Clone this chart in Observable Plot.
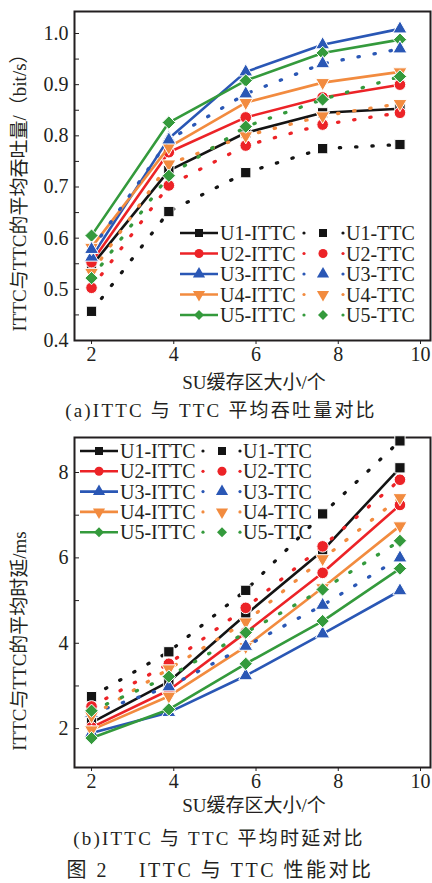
<!DOCTYPE html>
<html>
<head>
<meta charset="utf-8">
<script src="https://cdn.jsdelivr.net/npm/d3@7"></script>
<script src="https://cdn.jsdelivr.net/npm/@observablehq/plot@0.6"></script>
<style>
  body { margin: 0; background: #fff; }
  #root { position: relative; width: 432px; height: 883px; overflow: hidden; background: #fff;
          font-family: "Liberation Serif", "Noto Sans CJK SC", serif; color: #231f20; }
  .abs { position: absolute; white-space: pre; line-height: 1; }
  .ytitle { transform: translate(-50%, -50%) rotate(-90deg); font-size: 19px; }
  .cap { transform: translate(-50%, -50%); }
</style>
</head>
<body>
<div id="root"></div>
<script>
// ---------------- data ----------------
const bufferSizes = [2, 3.88, 5.75, 7.62, 9.5];
const xTicks = [2, 4, 6, 8, 10];
const userNames = ["U1", "U2", "U3", "U4", "U5"];
const methods = ["ITTC", "TTC"];

// (a) average throughput (bit/s), rows U1..U5
const throughputITTC = [
  [0.546, 0.732, 0.806, 0.845, 0.853],
  [0.553, 0.768, 0.836, 0.875, 0.900],
  [0.563, 0.795, 0.925, 0.978, 1.009],
  [0.582, 0.778, 0.865, 0.904, 0.925],
  [0.605, 0.826, 0.908, 0.962, 0.988]
];
const throughputTTC = [
  [0.457, 0.652, 0.728, 0.775, 0.783],
  [0.503, 0.703, 0.781, 0.822, 0.845],
  [0.578, 0.792, 0.882, 0.941, 0.970],
  [0.533, 0.745, 0.800, 0.839, 0.863],
  [0.522, 0.722, 0.818, 0.871, 0.916]
];
const throughputTicks = [0.4, 0.45, 0.5, 0.55, 0.6, 0.65, 0.7, 0.75, 0.8, 0.85, 0.9, 0.95, 1.0];

// (b) average delay (ms), rows U1..U5
const delayITTC = [
  [2.14, 3.10, 4.67, 6.17, 8.11],
  [2.03, 2.90, 4.25, 5.65, 7.24],
  [1.90, 2.38, 3.24, 4.22, 5.23],
  [1.97, 2.76, 3.92, 5.30, 6.75],
  [1.78, 2.45, 3.52, 4.52, 5.75]
];
const delayTTC = [
  [2.75, 3.80, 5.24, 7.03, 8.74],
  [2.52, 3.52, 4.83, 6.27, 7.83],
  [2.36, 2.98, 3.93, 4.89, 6.00],
  [2.30, 3.40, 4.50, 5.98, 7.41],
  [2.42, 3.22, 4.25, 5.26, 6.40]
];
const delayTicks = [2, 3, 4, 5, 6, 7, 8];

// text
const xTitle = "SU缓存区大小/个";
const yTitleA = "ITTC与TTC的平均吞吐量/（bit/s）";
const yTitleB = "ITTC与TTC的平均时延/ms";
const captionA = "(a)ITTC 与 TTC 平均吞吐量对比";
const captionB = "(b)ITTC 与 TTC 平均时延对比";
const figTitle = "图 2    ITTC 与 TTC 性能对比";

// ---------------- styles ----------------
const triangleDown = {
  draw(context, size) {
    const y = -Math.sqrt(size / (Math.sqrt(3) * 3));
    context.moveTo(0, -y * 2);
    context.lineTo(-Math.sqrt(3) * y, y);
    context.lineTo(Math.sqrt(3) * y, y);
    context.closePath();
  }
};
const userColors = ["#141414", "#ec2327", "#2a57b5", "#f28b3f", "#349a3c"];
const userSymbols = ["square", "circle", "triangle", triangleDown, "diamond2"];
const userRadius = [5.8, 5.8, 5.2, 5.2, 6.0];
const d3Symbols = [d3.symbolSquare, d3.symbolCircle, d3.symbolTriangle, triangleDown, d3.symbolDiamond2];
const FONT = "'Liberation Serif','Noto Sans CJK SC',serif";
const INK = "#231f20";

const root = document.getElementById("root");

function makeChart({ittc, ttc, yDomain, yTicks, yFormat, height, marginTop, marginBottom}) {
  const marks = [
    Plot.frame({stroke: INK, strokeWidth: 2}),
    Plot.axisX({ticks: xTicks, tickSize: 4, tickPadding: 2, label: null, fontSize: 20}),
    Plot.axisY({ticks: yTicks, tickSize: -5, tickPadding: 11, tickFormat: yFormat, label: null, fontSize: 20})
  ];
  [ittc, ttc].forEach((values, mi) => {
    const dotted = mi === 1;
    values.forEach((series, i) => {
      const rows = bufferSizes.map((x, j) => ({x, y: series[j], user: userNames[i], method: methods[mi]}));
      marks.push(Plot.line(rows, {
        x: "x", y: "y", stroke: userColors[i],
        strokeWidth: dotted ? 3.3 : 2.6,
        strokeDasharray: dotted ? "1.3 15" : null,
        strokeLinecap: dotted ? "round" : "butt"
      }));
      marks.push(Plot.dot(rows, {
        x: "x", y: "y", symbol: userSymbols[i], r: userRadius[i],
        fill: userColors[i], stroke: "white", strokeWidth: 1
      }));
    });
  });
  return Plot.plot({
    width: 432, height, marginLeft: 74, marginRight: 2, marginTop, marginBottom,
    x: {domain: [1.586, 10.243]},
    y: {domain: yDomain},
    style: {fontFamily: FONT, fontSize: "20px", color: INK, background: "transparent", overflow: "visible"},
    marks
  });
}

function place(node, left, top) {
  node.style.position = "absolute";
  node.style.left = left + "px";
  node.style.top = top + "px";
  root.appendChild(node);
}
function addText(text, cls, left, top, extra = {}) {
  const d = document.createElement("div");
  d.className = "abs " + cls;
  d.textContent = text;
  Object.assign(d.style, extra);
  place(d, left, top);
  return d;
}

function addLegend({top, left, rowH, leftLineX, rightX}) {
  const svg = d3.create("svg").attr("width", 432).attr("height", 130)
    .style("overflow", "visible");
  userNames.forEach((u, i) => {
    const y = i * rowH + 10;
    const g = svg.append("g");
    // ITTC sample (solid)
    g.append("line").attr("x1", leftLineX[0]).attr("x2", leftLineX[1]).attr("y1", y).attr("y2", y)
      .attr("stroke", userColors[i]).attr("stroke-width", 2.6);
    g.append("path").attr("d", d3.symbol(d3Symbols[i], 64)())
      .attr("transform", `translate(${(leftLineX[0] + leftLineX[1]) / 2},${y})`)
      .attr("fill", userColors[i]);
    g.append("text").attr("x", leftLineX[1] + 2).attr("y", y + 7)
      .attr("font-family", FONT).attr("font-size", 20).attr("fill", INK)
      .text(`${u}-${methods[0]}`);
    // TTC sample (dotted)
    [rightX[0], rightX[2]].forEach(cx => {
      g.append("circle").attr("cx", cx).attr("cy", y).attr("r", 1.6).attr("fill", userColors[i]);
    });
    g.append("path").attr("d", d3.symbol(d3Symbols[i], 64)())
      .attr("transform", `translate(${rightX[1]},${y})`)
      .attr("fill", userColors[i]);
    g.append("text").attr("x", rightX[2] + 3).attr("y", y + 7)
      .attr("font-family", FONT).attr("font-size", 20).attr("fill", INK)
      .text(`${u}-${methods[1]}`);
  });
  const node = svg.node();
  place(node, left, top);
}

// ---------- chart (a) ----------
const chartA = makeChart({
  ittc: throughputITTC, ttc: throughputTTC,
  yDomain: [0.4, 1.043], yTicks: throughputTicks,
  yFormat: d => (Math.round(d * 100) % 10 === 0 ? d.toFixed(1) : ""),
  height: 395, marginTop: 11, marginBottom: 55
});
place(chartA, 0, 0);
addLegend({top: 223, left: 0, rowH: 20.5, leftLineX: [180, 218], rightX: [304, 323, 343]});
addText(yTitleA, "ytitle", 19, 188);
addText(xTitle, "cap", 254, 382, {fontSize: "19px"});
addText(captionA, "cap", 221, 410, {fontSize: "19px", letterSpacing: "2.2px"});

// ---------- chart (b) ----------
const chartB = makeChart({
  ittc: delayITTC, ttc: delayTTC,
  yDomain: [1.09, 8.82], yTicks: delayTicks,
  yFormat: d => (d % 2 === 0 ? String(d) : ""),
  height: 395, marginTop: 12, marginBottom: 53
});
place(chartB, 0, 425);
addLegend({top: 441, left: 0, rowH: 20.3, leftLineX: [80, 118], rightX: [203, 222, 240]});
addText(yTitleB, "ytitle", 19, 641);
addText(xTitle, "cap", 254, 805, {fontSize: "19px"});
addText(captionB, "cap", 219, 838, {fontSize: "19px", letterSpacing: "2.2px"});
addText(figTitle, "cap", 220, 870, {fontSize: "20px", letterSpacing: "2.5px"});
</script>
</body>
</html>
